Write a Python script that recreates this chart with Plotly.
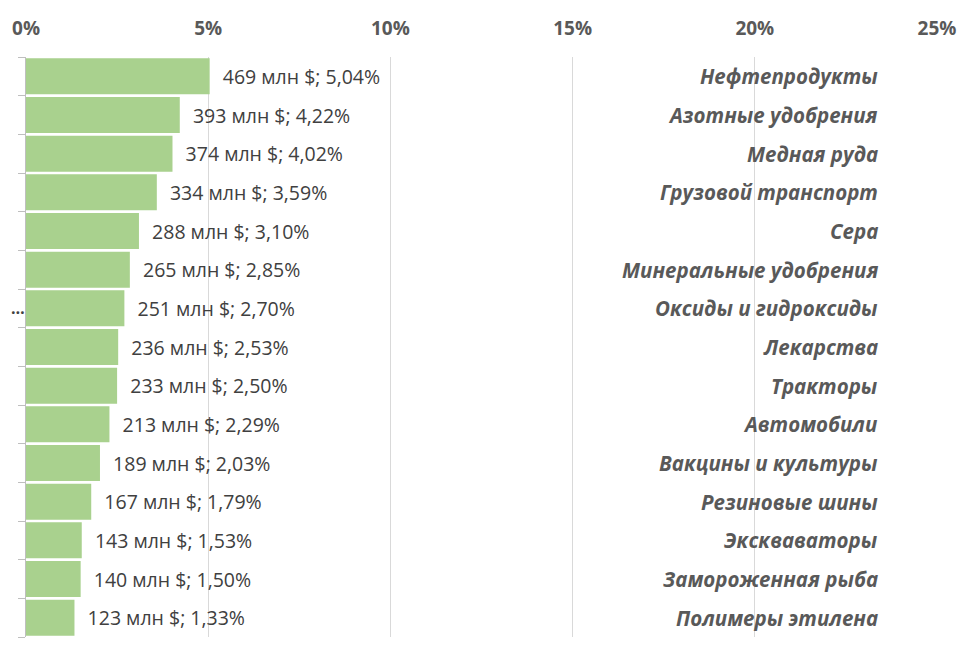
import plotly.graph_objects as go

categories = ["Нефтепродукты", "Азотные удобрения", "Медная руда", "Грузовой транспорт", "Сера",
              "Минеральные удобрения", "Оксиды и гидроксиды", "Лекарства", "Тракторы", "Автомобили",
              "Вакцины и культуры", "Резиновые шины", "Экскваваторы", "Замороженная рыба", "Полимеры этилена"]
values_mln = [469, 393, 374, 334, 288, 265, 251, 236, 233, 213, 189, 167, 143, 140, 123]
shares = [5.04, 4.22, 4.02, 3.59, 3.10, 2.85, 2.70, 2.53, 2.50, 2.29, 2.03, 1.79, 1.53, 1.50, 1.33]
x_ticks = [0, 5, 10, 15, 20, 25]
x_tick_labels = ["0%", "5%", "10%", "15%", "20%", "25%"]

FONT = "Open Sans, Lato, sans-serif"
labels = ["\u00a0\u00a0%d млн $; %s%%" % (v, ("%.2f" % s).replace(".", ",")) for v, s in zip(values_mln, shares)]
y_text = ["…" if c == "Оксиды и гидроксиды" else "" for c in categories]

fig = go.Figure()
fig.add_trace(go.Bar(
    y=categories, x=shares, orientation="h",
    marker=dict(color="#a9d18e", line=dict(width=0)),
    text=labels, textposition="outside", cliponaxis=False,
    textfont=dict(family=FONT, size=19.5, color="#404040"),
    hoverinfo="skip",
))

for c in categories:
    fig.add_annotation(x=23.43, y=c, xref="x", yref="y", text="<b><i>%s</i></b>" % c,
                       showarrow=False, xanchor="right", yanchor="middle",
                       font=dict(family=FONT, size=20.5, color="#595959"))

fig.update_layout(
    width=964, height=646,
    margin=dict(l=18, r=35, t=49, b=17),
    paper_bgcolor="white", plot_bgcolor="white",
    bargap=0.07, showlegend=False,
    xaxis=dict(side="top", range=[0, 25], tickvals=x_ticks, ticktext=x_tick_labels,
               showgrid=True, gridcolor="#d9d9d9", gridwidth=1.3, zeroline=False,
               showline=False, ticks="", ticklabelstandoff=17, automargin=False,
               tickfont=dict(family=FONT, size=19, color="#595959", weight="bold")),
    yaxis=dict(autorange="reversed", type="category", tickmode="array",
               tickvals=categories, ticktext=y_text, tickson="boundaries",
               ticks="outside", ticklen=7, tickcolor="#bfbfbf", tickwidth=1.3,
               showline=True, linecolor="#bfbfbf", linewidth=1.3, showgrid=False,
               automargin=False,
               tickfont=dict(family=FONT, size=16, color="#404040", weight="bold"),
               ticklabelstandoff=-3),
)

fig.write_html("out.html")
